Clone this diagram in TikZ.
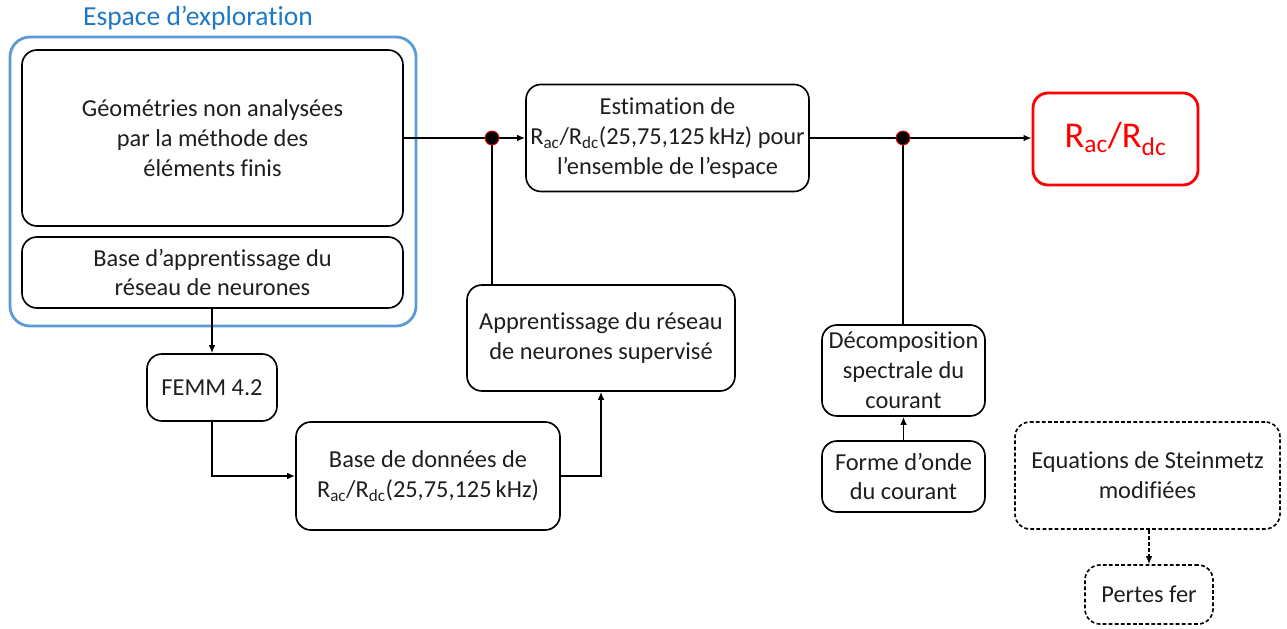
\documentclass[tikz,border=0pt]{standalone}
\usepackage{fontspec}
\setmainfont{Carlito}[RawFeature=-liga]
\usetikzlibrary{arrows.meta}
\definecolor{txt}{RGB}{30,30,30}
\definecolor{bluebox}{RGB}{91,155,213}
\definecolor{bluetxt}{RGB}{30,120,200}
\definecolor{redc}{RGB}{255,0,0}
\tikzset{
  bx/.style={draw=black, line width=1.4pt, rounded corners=0.45cm, align=center, text=txt,
    font=\fontsize{20.8}{25.5}\selectfont, inner sep=0pt},
  dbx/.style={bx, dash pattern=on 3.2pt off 2pt},
  conn/.style={draw=black, line width=1.3pt},
  arr/.style={conn, -{Latex[length=2.4mm,width=2mm]}},
  jdot/.style={circle, fill=black, draw=redc, line width=0.7pt, minimum size=0.42cm, inner sep=0pt},
}
\begin{document}
\begin{tikzpicture}[x=0.03cm, y=-0.03cm]
\useasboundingbox (0,0) rectangle (1287,629);
% exploration space
\node[draw=bluebox, line width=2.4pt, rounded corners=0.6cm, minimum width=12.18cm, minimum height=8.67cm, inner sep=0pt] (space) at (213,181.5) {};
\node[text=bluetxt, font=\fontsize{23.5}{26}\selectfont, inner sep=0pt] (spacelbl) at (198,18) {Espace d’exploration};
\node[bx, minimum width=11.43cm, minimum height=5.28cm] (G) at (212.5,138) {Géométries non analysées\\par la méthode des\\éléments finis};
\node[bx, minimum width=11.43cm, minimum height=2.13cm] (BA) at (212.5,272.5) {Base d’apprentissage du\\réseau de neurones};
% other boxes
\node[bx, minimum width=8.49cm, minimum height=3.21cm] (Est) at (667.5,138) {Estimation de\\R\textsubscript{ac}/R\textsubscript{dc}(25,75,125\,kHz) pour\\l’ensemble de l’espace};
\node[bx, draw=redc, line width=2.4pt, text=redc, font=\fontsize{31}{34}\selectfont, minimum width=4.95cm, minimum height=2.76cm] (R) at (1115.5,139) {R\textsubscript{ac}/R\textsubscript{dc}};
\node[bx, minimum width=3.9cm, minimum height=2.01cm] (FEMM) at (212,387.5) {FEMM 4.2};
\node[bx, minimum width=7.92cm, minimum height=3.24cm] (BD) at (428,476) {Base de données de\\R\textsubscript{ac}/R\textsubscript{dc}(25,75,125\,kHz)};
\node[bx, minimum width=8.04cm, minimum height=3.18cm] (App) at (601,338) {Apprentissage du réseau\\de neurones supervisé};
\node[bx, minimum width=4.89cm, minimum height=2.73cm] (Dec) at (903.5,370.5) {Décomposition\\spectrale du\\courant};
\node[bx, minimum width=4.89cm, minimum height=2.13cm] (Forme) at (903.5,476.5) {Forme d’onde\\du courant};
\node[dbx, minimum width=7.95cm, minimum height=3.21cm] (Eq) at (1147.5,475.5) {Equations de Steinmetz\\modifiées};
\node[dbx, minimum width=3.84cm, minimum height=1.77cm] (Pertes) at (1149,594.5) {Pertes fer};
% junctions
\coordinate (j1) at (492,138);
\coordinate (j2) at (903,138);
% connectors
\draw[conn] (G.east) -- (j1);
\draw[arr] (j1) -- (j1 -| Est.west);
\draw[conn] (j1 |- App.north) -- (j1);
\draw[conn] (Est.east |- j2) -- (j2);
\draw[arr] (j2) -- (j2 -| R.west);
\draw[conn] (j2 |- Dec.north) -- (j2);
\draw[arr] (BA.south -| FEMM.north) -- (FEMM.north);
\draw[arr] (FEMM.south) |- (BD.west);
\draw[arr] (BD.east) -| (App.south);
\draw[arr] (Forme.north) -- (Dec.south);
\draw[arr, dash pattern=on 3.2pt off 2pt] (Eq.south -| Pertes.north) -- (Pertes.north);
% junction dots
\node[jdot] (d1) at (j1) {};
\node[jdot] (d2) at (j2) {};
\end{tikzpicture}
\end{document}
